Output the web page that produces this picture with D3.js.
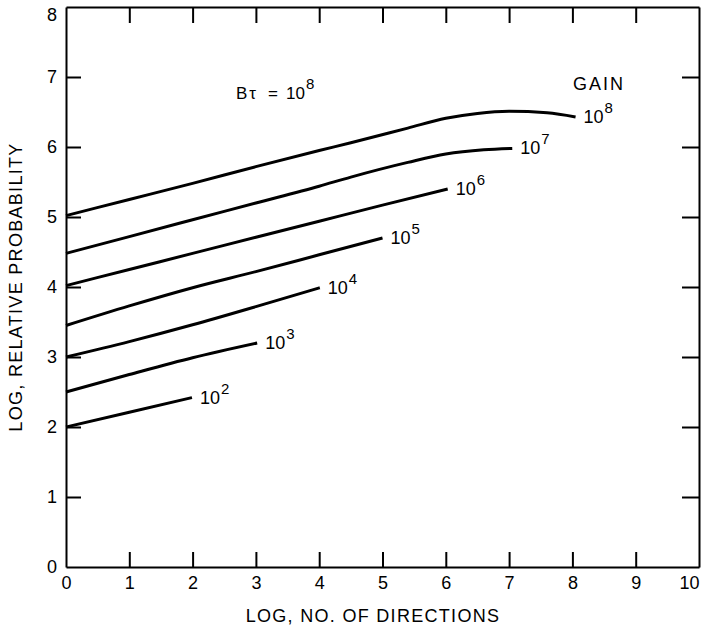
<!DOCTYPE html>
<html lang="en">
<head>
    <meta charset="UTF-8">
    <title>Relative Probability vs Directions</title>
    <script src="https://cdn.jsdelivr.net/npm/d3@7"></script>
    <style>
        body {
            margin: 0;
            background-color: #fff;
        }
        svg {
            display: block;
            font-family: 'Liberation Sans', Arial, sans-serif;
        }
        .axis path, .axis line {
            stroke: #000;
            stroke-width: 2;
        }
        .axis text {
            font-size: 18px;
            fill: #000;
        }
        .curve {
            fill: none;
            stroke: #000;
            stroke-width: 3;
        }
    </style>
</head>
<body>
    <svg></svg>

    <script>
        const width = 702;
        const height = 632;

        // x ticks / y ticks
        const xTicks = [0, 1, 2, 3, 4, 5, 6, 7, 8, 9, 10];
        const yTicks = [0, 1, 2, 3, 4, 5, 6, 7, 8];

        // one curve per gain exponent, points as [log directions, log probability]
        const gainExponents = [2, 3, 4, 5, 6, 7, 8];
        const gain2 = [[0, 2.0], [1, 2.21], [1.99, 2.42]];
        const gain3 = [[0, 2.5], [1, 2.75], [2, 2.99], [3.02, 3.2]];
        const gain4 = [[0, 3.0], [1, 3.22], [2, 3.46], [3, 3.72], [4.01, 3.99]];
        const gain5 = [[0, 3.45], [1, 3.73], [2, 3.99], [3, 4.22], [4, 4.46], [5.0, 4.7]];
        const gain6 = [[0, 4.02], [1, 4.25], [2, 4.48], [3, 4.71], [4, 4.94], [5, 5.17], [6.03, 5.4]];
        const gain7 = [[0, 4.48], [1, 4.72], [2, 4.96], [3, 5.2], [4, 5.44], [4.5, 5.57], [5.4, 5.78],
                       [6.0, 5.9], [6.6, 5.96], [7.05, 5.98]];
        const gain8 = [[0, 5.02], [1, 5.25], [2, 5.48], [3, 5.72], [4, 5.95], [4.5, 6.06], [5.4, 6.27],
                       [6.0, 6.41], [6.5, 6.48], [7.0, 6.51], [7.6, 6.49], [8.05, 6.43]];
        const curves = [gain2, gain3, gain4, gain5, gain6, gain7, gain8];

        const svg = d3.select("svg")
            .attr("width", width)
            .attr("height", height);

        const x = d3.scaleLinear().domain([0, 10]).range([66, 699]);
        const y = d3.scaleLinear().domain([0, 8]).range([567, 7]);

        // bottom axis with labels, ticks pointing up
        svg.append("g")
            .attr("class", "axis")
            .attr("transform", `translate(0,${y(0)})`)
            .call(d3.axisBottom(x).tickValues(xTicks).tickSizeInner(-15).tickSizeOuter(0).tickPadding(9))
            .call(g => g.selectAll(".tick line").filter(d => d === 0 || d === 10).remove())
            .call(g => g.selectAll(".tick text").filter(d => d === 10).attr("text-anchor", "end"));

        // left axis with labels
        svg.append("g")
            .attr("class", "axis")
            .attr("transform", `translate(${x(0)},0)`)
            .call(d3.axisLeft(y).tickValues(yTicks).tickSizeInner(-15).tickSizeOuter(0).tickPadding(9))
            .call(g => g.selectAll(".tick line").filter(d => d === 0 || d === 8).remove())
            .call(g => g.selectAll(".tick text").filter(d => d === 8).attr("dy", "0.77em"));

        // top and right frame, ticks only
        svg.append("g")
            .attr("class", "axis")
            .attr("transform", `translate(0,${y(8)})`)
            .call(d3.axisTop(x).tickValues(xTicks.slice(1, -1)).tickSizeInner(-16).tickSizeOuter(0).tickFormat(""));

        svg.append("g")
            .attr("class", "axis")
            .attr("transform", `translate(${x(10)},0)`)
            .call(d3.axisRight(y).tickValues(yTicks.slice(1, -1)).tickSizeInner(-17).tickSizeOuter(0).tickFormat(""));

        const line = d3.line()
            .x(d => x(d[0]))
            .y(d => y(d[1]))
            .curve(d3.curveMonotoneX);

        svg.selectAll(".curve")
            .data(curves)
            .enter().append("path")
            .attr("class", "curve")
            .attr("d", line);

        // gain labels at the end of each curve
        const labels = svg.selectAll(".gain-label")
            .data(curves)
            .enter().append("text")
            .attr("class", "gain-label")
            .attr("x", d => x(d[d.length - 1][0]) + 8)
            .attr("y", d => y(d[d.length - 1][1]) + 6)
            .attr("font-size", 18);
        labels.append("tspan").text("10");
        labels.append("tspan")
            .attr("dy", -10)
            .attr("dx", 1)
            .attr("font-size", 15)
            .text((d, i) => gainExponents[i]);

        svg.append("text")
            .attr("x", 573)
            .attr("y", 90)
            .attr("font-size", 18)
            .attr("letter-spacing", 2)
            .text("GAIN");

        const bt = svg.append("text")
            .attr("x", 236)
            .attr("y", 99)
            .attr("font-size", 17)
            .attr("xml:space", "preserve");
        bt.append("tspan").attr("letter-spacing", 2).text("B\u03c4");
        bt.append("tspan").attr("dx", 10).text("=");
        bt.append("tspan").attr("dx", 8).text("10");
        bt.append("tspan").attr("dy", -10).attr("dx", 1).attr("font-size", 15).text("8");

        // axis titles
        svg.append("text")
            .attr("x", 373)
            .attr("y", 622)
            .attr("text-anchor", "middle")
            .attr("font-size", 18)
            .attr("letter-spacing", 1.3)
            .text("LOG, NO. OF DIRECTIONS");

        svg.append("text")
            .attr("transform", "translate(22,287) rotate(-90)")
            .attr("text-anchor", "middle")
            .attr("font-size", 18)
            .attr("letter-spacing", 1.3)
            .text("LOG, RELATIVE PROBABILITY");
    </script>
</body>
</html>
